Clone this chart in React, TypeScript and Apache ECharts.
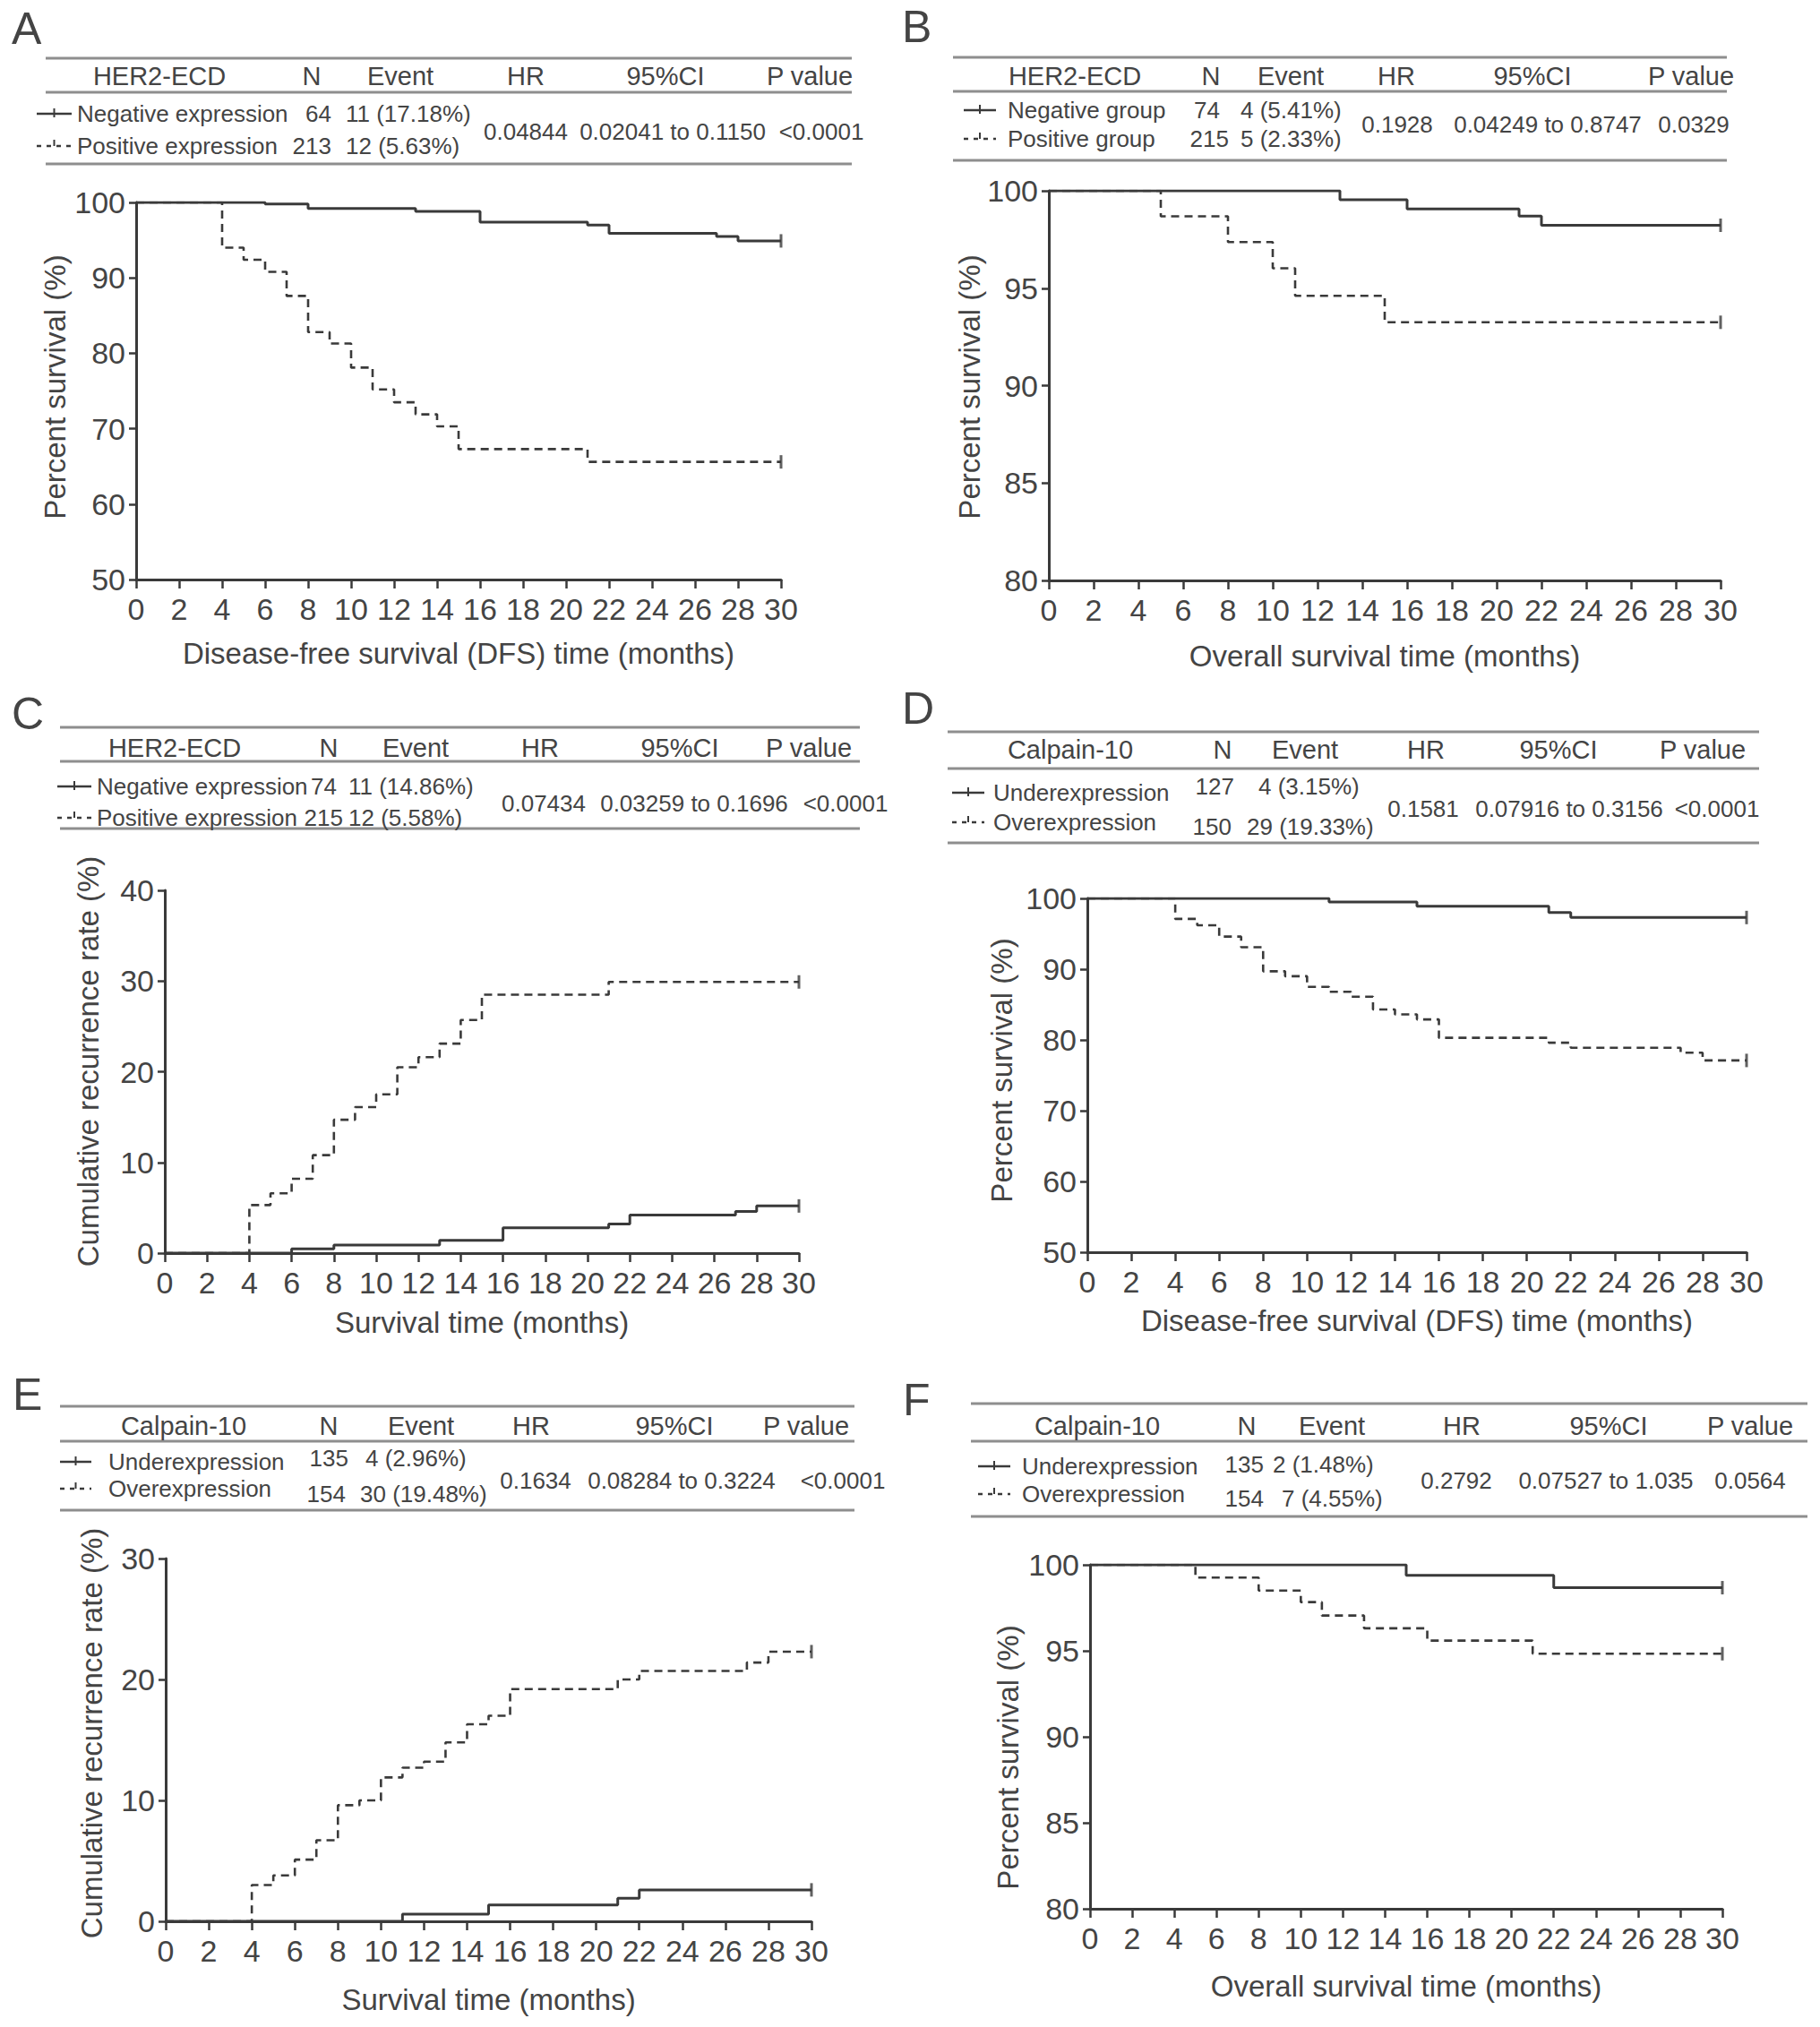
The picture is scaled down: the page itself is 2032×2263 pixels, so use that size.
import React, { useEffect, useRef } from "react";
import * as echarts from "echarts";

const FONT = "'Liberation Sans', Arial, Helvetica, sans-serif";
const INK = "#444444";
const CURVE = "#3a3a3a";
const RULE = "#8e8e8e";

// ---------- Panel A : HER2-ECD, DFS ----------
const A_header = ["HER2-ECD", "N", "Event", "HR", "95%CI", "P value"];
const A_row1 = ["Negative expression", "64", "11 (17.18%)"];
const A_row2 = ["Positive expression", "213", "12 (5.63%)"];
const A_stats = ["0.04844", "0.02041 to 0.1150", "<0.0001"];
const A_negT = [0, 6, 8, 13, 16, 21, 22, 27, 28, 30];
const A_negV = [100, 99.8, 99.2, 98.8, 97.4, 97.0, 95.9, 95.5, 94.9, 94.9];
const A_posT = [0, 4, 5, 6, 7, 8, 9, 10, 11, 12, 13, 14, 15, 21, 30];
const A_posV = [100, 94.0, 92.4, 90.8, 87.6, 82.8, 81.3, 78.1, 75.2, 73.5, 71.9, 70.3, 67.3, 65.6, 65.6];

// ---------- Panel B : HER2-ECD, OS ----------
const B_header = ["HER2-ECD", "N", "Event", "HR", "95%CI", "P value"];
const B_row1 = ["Negative group", "74", "4 (5.41%)"];
const B_row2 = ["Positive group", "215", "5 (2.33%)"];
const B_stats = ["0.1928", "0.04249 to 0.8747", "0.0329"];
const B_negT = [0, 13, 16, 21, 22, 30];
const B_negV = [100, 99.54, 99.07, 98.7, 98.23, 98.23];
const B_posT = [0, 5, 8, 10, 11, 15, 30];
const B_posV = [100, 98.69, 97.37, 96.02, 94.61, 93.25, 93.25];

// ---------- Panel C : HER2-ECD, recurrence ----------
const C_header = ["HER2-ECD", "N", "Event", "HR", "95%CI", "P value"];
const C_row1 = ["Negative expression", "74", "11 (14.86%)"];
const C_row2 = ["Positive expression", "215", "12 (5.58%)"];
const C_stats = ["0.07434", "0.03259 to 0.1696", "<0.0001"];
const C_negT = [0, 6, 8, 13, 16, 21, 22, 27, 28, 30];
const C_negV = [0, 0.46, 0.9, 1.4, 2.8, 3.2, 4.2, 4.6, 5.2, 5.2];
const C_posT = [0, 4, 5, 6, 7, 8, 9, 10, 11, 12, 13, 14, 15, 21, 30];
const C_posV = [0, 5.3, 6.6, 8.2, 10.8, 14.7, 16.1, 17.5, 20.5, 21.6, 23.1, 25.7, 28.5, 29.9, 29.9];

// ---------- Panel D : Calpain-10, DFS ----------
const D_header = ["Calpain-10", "N", "Event", "HR", "95%CI", "P value"];
const D_row1 = ["Underexpression", "127", "4 (3.15%)"];
const D_row2 = ["Overexpression", "150", "29 (19.33%)"];
const D_stats = ["0.1581", "0.07916 to 0.3156", "<0.0001"];
const D_negT = [0, 11, 15, 21, 22, 30];
const D_negV = [100, 99.5, 98.9, 98.0, 97.3, 97.3];
const D_posT = [0, 4, 5, 6, 7, 8, 9, 10, 11, 12, 13, 14, 15, 16, 21, 22, 27, 28, 30];
const D_posV = [100, 97.1, 96.2, 94.6, 93.1, 89.7, 89.0, 87.5, 86.8, 86.1, 84.3, 83.6, 82.9, 80.3, 79.6, 78.9, 78.2, 77.1, 77.1];

// ---------- Panel E : Calpain-10, recurrence ----------
const E_header = ["Calpain-10", "N", "Event", "HR", "95%CI", "P value"];
const E_row1 = ["Underexpression", "135", "4 (2.96%)"];
const E_row2 = ["Overexpression", "154", "30 (19.48%)"];
const E_stats = ["0.1634", "0.08284 to 0.3224", "<0.0001"];
const E_negT = [0, 11, 15, 21, 22, 30];
const E_negV = [0, 0.6, 1.35, 1.9, 2.6, 2.6];
const E_posT = [0, 4, 5, 6, 7, 8, 9, 10, 11, 12, 13, 14, 15, 16, 21, 22, 27, 28, 30];
const E_posV = [0, 3.0, 3.8, 5.1, 6.7, 9.6, 10.0, 11.9, 12.7, 13.2, 14.8, 16.3, 17.0, 19.2, 20.0, 20.7, 21.4, 22.3, 22.3];

// ---------- Panel F : Calpain-10, OS ----------
const F_header = ["Calpain-10", "N", "Event", "HR", "95%CI", "P value"];
const F_row1 = ["Underexpression", "135", "2 (1.48%)"];
const F_row2 = ["Overexpression", "154", "7 (4.55%)"];
const F_stats = ["0.2792", "0.07527 to 1.035", "0.0564"];
const F_negT = [0, 15, 22, 30];
const F_negV = [100, 99.39, 98.67, 98.67];
const F_posT = [0, 5, 8, 10, 11, 13, 16, 21, 30];
const F_posV = [100, 99.26, 98.5, 97.83, 97.05, 96.31, 95.59, 94.83, 94.83];

const X_TITLE_DFS = "Disease-free survival (DFS) time (months)";
const X_TITLE_OS = "Overall survival time (months)";
const X_TITLE_SURV = "Survival time (months)";
const Y_TITLE_PS = "Percent survival (%)";
const Y_TITLE_CR = "Cumulative recurrence rate (%)";

const zip = (t: number[], v: number[]) => t.map((x, i) => [x, v[i]]);

// layout (positions only)
const panels = [
  {
    letter: "A", letterPos: [13, 32],
    header: A_header, row1: A_row1, row2: A_row2, stats: A_stats,
    rule: [51, 951], ruleY: [65, 103, 183], headerY: 85,
    headerX: [178, 348, 447, 587, 743, 904],
    labelX: 86, labelY: [127, 163], nX: [370, 370], numY: [127, 163], evX: [386, 386],
    statX: [587, 751, 917], statY: 147, sym: [41, 80],
    grid: { left: 152, top: 226, width: 720, height: 421 },
    y: [50, 100, 10], xName: X_TITLE_DFS, yName: Y_TITLE_PS, xGap: 66, yTitle: [61, 432],
    neg: zip(A_negT, A_negV), pos: zip(A_posT, A_posV),
  },
  {
    letter: "B", letterPos: [1007, 30],
    header: B_header, row1: B_row1, row2: B_row2, stats: B_stats,
    rule: [1064, 1928], ruleY: [64, 102, 179], headerY: 85,
    headerX: [1200, 1352, 1441, 1559, 1711, 1888],
    labelX: 1125, labelY: [123, 155], nX: [1362, 1372], numY: [123, 155], evX: [1385, 1385],
    statX: [1560, 1728, 1891], statY: 139, sym: [1076, 1112],
    grid: { left: 1171, top: 213, width: 750, height: 435 },
    y: [80, 100, 5], xName: X_TITLE_OS, yName: Y_TITLE_PS, xGap: 68, yTitle: [1082, 432],
    neg: zip(B_negT, B_negV), pos: zip(B_posT, B_posV),
  },
  {
    letter: "C", letterPos: [13, 797],
    header: C_header, row1: C_row1, row2: C_row2, stats: C_stats,
    rule: [67, 960], ruleY: [812, 850, 925], headerY: 835,
    headerX: [195, 367, 464, 603, 759, 903],
    labelX: 108, labelY: [878, 913], nX: [376, 383], numY: [878, 913], evX: [389, 389],
    statX: [607, 775, 944], statY: 897, sym: [64, 102],
    grid: { left: 184, top: 994, width: 708, height: 405 },
    y: [0, 40, 10], xName: X_TITLE_SURV, yName: Y_TITLE_CR, xGap: 61, yTitle: [98, 1185],
    neg: zip(C_negT, C_negV), pos: zip(C_posT, C_posV),
  },
  {
    letter: "D", letterPos: [1007, 791],
    header: D_header, row1: D_row1, row2: D_row2, stats: D_stats,
    rule: [1058, 1964], ruleY: [817, 858, 941], headerY: 837,
    headerX: [1195, 1365, 1457, 1592, 1740, 1901],
    labelX: 1109, labelY: [885, 918], nX: [1378, 1375], numY: [878, 923], evX: [1405, 1392],
    statX: [1589, 1752, 1917], statY: 903, sym: [1063, 1099],
    grid: { left: 1214, top: 1003, width: 736, height: 395 },
    y: [50, 100, 10], xName: X_TITLE_DFS, yName: Y_TITLE_PS, xGap: 60, yTitle: [1118, 1195],
    neg: zip(D_negT, D_negV), pos: zip(D_posT, D_posV),
  },
  {
    letter: "E", letterPos: [14, 1557],
    header: E_header, row1: E_row1, row2: E_row2, stats: E_stats,
    rule: [67, 954], ruleY: [1570, 1609, 1686], headerY: 1592,
    headerX: [205, 367, 470, 593, 753, 900],
    labelX: 121, labelY: [1632, 1662], nX: [389, 386], numY: [1628, 1668], evX: [408, 402],
    statX: [598, 761, 941], statY: 1653, sym: [67, 102],
    grid: { left: 185, top: 1740, width: 721, height: 405 },
    y: [0, 30, 10], xName: X_TITLE_SURV, yName: Y_TITLE_CR, xGap: 71, yTitle: [102, 1935],
    neg: zip(E_negT, E_negV), pos: zip(E_posT, E_posV),
  },
  {
    letter: "F", letterPos: [1008, 1563],
    header: F_header, row1: F_row1, row2: F_row2, stats: F_stats,
    rule: [1084, 2018], ruleY: [1567, 1609, 1693], headerY: 1592,
    headerX: [1225, 1392, 1487, 1632, 1796, 1954],
    labelX: 1141, labelY: [1637, 1668], nX: [1411, 1411], numY: [1635, 1673], evX: [1421, 1431],
    statX: [1626, 1793, 1954], statY: 1653, sym: [1092, 1128],
    grid: { left: 1217, top: 1747, width: 706, height: 384 },
    y: [80, 100, 5], xName: X_TITLE_OS, yName: Y_TITLE_PS, xGap: 70, yTitle: [1125, 1962],
    neg: zip(F_negT, F_negV), pos: zip(F_posT, F_posV),
  },
];

function txt(text: string, x: number, y: number, size: number, align = "left", rotation = 0) {
  return {
    type: "text",
    x,
    y,
    rotation,
    silent: true,
    style: { text, fontSize: size, fontFamily: FONT, fill: INK, align, verticalAlign: "middle" },
  };
}
function hline(x1: number, x2: number, y: number, w = 3, color = RULE, dash?: number[]) {
  return {
    type: "line",
    silent: true,
    shape: { x1, y1: y, x2, y2: y },
    style: { stroke: color, lineWidth: w, lineDash: dash },
  };
}
function vline(x: number, y1: number, y2: number, w = 2, color = CURVE) {
  return {
    type: "line",
    silent: true,
    shape: { x1: x, y1, x2: x, y2 },
    style: { stroke: color, lineWidth: w },
  };
}

export default function App() {
  const ref = useRef<HTMLDivElement>(null);
  useEffect(() => {
    if (!ref.current) return;
    const chart = echarts.init(ref.current, undefined, { renderer: "svg" });
    const grids: any[] = [];
    const xAxes: any[] = [];
    const yAxes: any[] = [];
    const series: any[] = [];
    const graphics: any[] = [];

    panels.forEach((p, i) => {
      grids.push({ ...p.grid, containLabel: false });
      xAxes.push({
        type: "value",
        gridIndex: i,
        min: 0,
        max: 30,
        interval: 2,
        name: p.xName,
        nameLocation: "middle",
        nameGap: p.xGap,
        nameTextStyle: { fontSize: 33, fontFamily: FONT, color: INK },
        axisLine: { show: true, lineStyle: { color: "#3a3a3a", width: 3 } },
        axisTick: { show: true, length: 10, lineStyle: { color: "#3a3a3a", width: 2.5 } },
        axisLabel: { fontSize: 34, fontFamily: FONT, color: INK, margin: 16 },
        splitLine: { show: false },
      });
      yAxes.push({
        type: "value",
        gridIndex: i,
        min: p.y[0],
        max: p.y[1],
        interval: p.y[2],
        axisLine: { show: true, lineStyle: { color: "#3a3a3a", width: 3 } },
        axisTick: { show: true, length: 8, lineStyle: { color: "#3a3a3a", width: 2.5 } },
        axisLabel: { fontSize: 34, fontFamily: FONT, color: INK, margin: 12 },
        splitLine: { show: false },
      });
      series.push({
        type: "line",
        xAxisIndex: i,
        yAxisIndex: i,
        step: "end",
        data: p.neg,
        symbol: "none",
        lineStyle: { color: CURVE, width: 3 },
        z: 3,
      });
      series.push({
        type: "line",
        xAxisIndex: i,
        yAxisIndex: i,
        step: "end",
        data: p.pos,
        symbol: "none",
        lineStyle: { color: CURVE, width: 2.6, type: [9, 6] },
        z: 3,
      });
      series.push({
        type: "scatter",
        xAxisIndex: i,
        yAxisIndex: i,
        data: [p.neg[p.neg.length - 1], p.pos[p.pos.length - 1]],
        symbol: "rect",
        symbolSize: [3, 15],
        itemStyle: { color: CURVE },
        z: 4,
      });

      // y-axis title
      graphics.push(txt(p.yName, p.yTitle[0], p.yTitle[1], 33, "center", Math.PI / 2));
      // panel letter
      graphics.push(txt(p.letter, p.letterPos[0], p.letterPos[1], 50));
      // table rules
      p.ruleY.forEach((yy) => graphics.push(hline(p.rule[0], p.rule[1], yy, 3)));
      // header
      p.header.forEach((h, k) => graphics.push(txt(h, p.headerX[k], p.headerY, 29, "center")));
      // rows
      graphics.push(txt(p.row1[0], p.labelX, p.labelY[0], 26));
      graphics.push(txt(p.row2[0], p.labelX, p.labelY[1], 26));
      graphics.push(txt(p.row1[1], p.nX[0], p.numY[0], 26, "right"));
      graphics.push(txt(p.row2[1], p.nX[1], p.numY[1], 26, "right"));
      graphics.push(txt(p.row1[2], p.evX[0], p.numY[0], 26));
      graphics.push(txt(p.row2[2], p.evX[1], p.numY[1], 26));
      p.stats.forEach((s, k) => graphics.push(txt(s, p.statX[k], p.statY, 26, "center")));
      // legend symbols
      const [s1, s2] = p.sym;
      const mid = (s1 + s2) / 2;
      graphics.push(hline(s1, s2, p.labelY[0], 2.5, CURVE));
      graphics.push(vline(mid, p.labelY[0] - 6, p.labelY[0] + 4, 2));
      graphics.push(hline(s1, s2, p.labelY[1], 2.5, CURVE, [5, 6]));
      graphics.push(vline(mid, p.labelY[1] - 7, p.labelY[1], 2));
    });

    chart.setOption({
      animation: false,
      backgroundColor: "#ffffff",
      grid: grids,
      xAxis: xAxes,
      yAxis: yAxes,
      series,
      graphic: graphics,
    });
    return () => chart.dispose();
  }, []);
  return (
    <div
      ref={ref}
      style={{ position: "absolute", left: 0, top: 0, width: 2032, height: 2263, background: "#fff" }}
    />
  );
}
